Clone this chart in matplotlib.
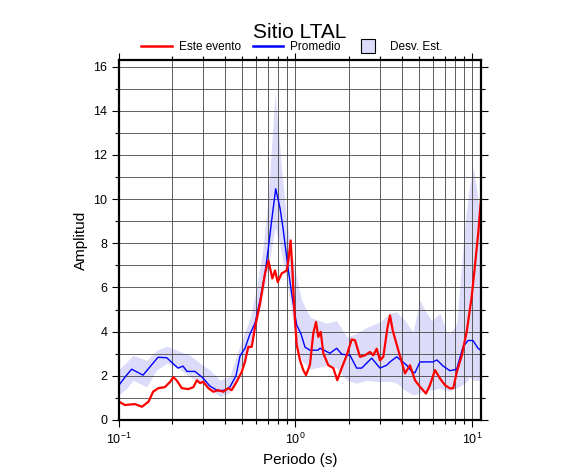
import matplotlib
matplotlib.use("Agg")
import matplotlib.pyplot as plt
from matplotlib.lines import Line2D
from matplotlib.ticker import LogLocator, MultipleLocator

plt.rcParams['font.family'] = ['Liberation Sans', 'DejaVu Sans']

# este evento (red)
ev_T = [0.100, 0.108, 0.123, 0.135, 0.147, 0.156, 0.167, 0.182, 0.195, 0.203,
        0.212, 0.227, 0.247, 0.264, 0.276, 0.288, 0.300, 0.321, 0.342, 0.365,
        0.390, 0.416, 0.435, 0.464, 0.496, 0.518, 0.540, 0.565, 0.590, 0.630,
        0.672, 0.702, 0.717, 0.739, 0.766, 0.793, 0.836, 0.892, 0.911, 0.939,
        0.959, 0.985, 1.016, 1.061, 1.107, 1.147, 1.208, 1.261, 1.307, 1.347,
        1.390, 1.438, 1.534, 1.638, 1.725, 1.827, 1.951, 2.082, 2.174, 2.320,
        2.477, 2.643, 2.760, 2.885, 3.012, 3.145, 3.313, 3.432, 3.555, 3.663,
        3.824, 3.997, 4.173, 4.454, 4.755, 5.075, 5.489, 5.781, 6.172, 6.588,
        7.031, 7.506, 7.837, 8.191, 8.742, 9.333, 9.961, 10.40, 10.86, 11.25]
ev_A = [0.83, 0.68, 0.72, 0.60, 0.83, 1.28, 1.44, 1.49, 1.73, 1.94,
        1.80, 1.44, 1.40, 1.49, 1.80, 1.67, 1.73, 1.44, 1.28, 1.35,
        1.28, 1.44, 1.35, 1.73, 2.18, 2.65, 3.31, 3.31, 4.21, 5.28,
        6.64, 7.22, 6.90, 6.41, 6.77, 6.24, 6.64, 6.77, 7.22, 8.13,
        6.90, 4.97, 3.40, 2.70, 2.26, 2.03, 2.50, 3.92, 4.44, 3.76,
        3.99, 3.02, 2.48, 2.35, 1.80, 2.35, 2.93, 3.65, 3.61, 2.86,
        2.93, 3.08, 2.93, 3.23, 2.70, 2.86, 4.14, 4.74, 4.06, 3.69,
        3.16, 2.63, 2.11, 2.48, 1.80, 1.50, 1.20, 1.58, 2.26, 1.88,
        1.58, 1.43, 1.44, 2.15, 2.90, 4.00, 5.57, 7.00, 8.50, 10.0]

# promedio (blue)
prom_T = [0.1000, 0.1096, 0.1180, 0.1368, 0.1663, 0.1863, 0.2160, 0.2305, 0.2429,
          0.2696, 0.2992, 0.3279, 0.3639, 0.3987, 0.4256, 0.4602, 0.4850, 0.5176,
          0.5524, 0.5897, 0.6295, 0.6719, 0.6988, 0.7327, 0.7725, 0.8170, 0.8497,
          0.9068, 0.9517, 1.0158, 1.0744, 1.1319, 1.2084, 1.3412, 1.3766, 1.5688,
          1.7120, 1.8274, 2.0363, 2.2222, 2.3723, 2.7025, 3.0119, 3.2865, 3.4318,
          3.7446, 4.2658, 4.5709, 4.7545, 5.0750, 6.0117, 6.3343, 6.8487, 7.5064,
          8.1908, 8.8920, 9.4919, 10.132, 10.814, 11.25]
prom_A = [1.58, 2.00, 2.30, 2.03, 2.84, 2.82, 2.35, 2.44, 2.20,
          2.20, 1.90, 1.53, 1.32, 1.35, 1.50, 2.00, 2.90, 3.25,
          3.90, 4.38, 5.42, 6.64, 7.67, 9.03, 10.47, 9.60, 8.70,
          6.90, 5.72, 4.30, 3.90, 3.30, 3.16, 3.16, 3.25, 3.02,
          3.25, 2.98, 2.93, 2.35, 2.35, 2.80, 2.35, 2.48, 2.63,
          2.86, 2.48, 2.18, 2.14, 2.63, 2.63, 2.72, 2.45, 2.23,
          2.30, 3.31, 3.60, 3.60, 3.25, 3.15]

# desviacion estandar (band)
sd_T = [0.1000, 0.1096, 0.1200, 0.1435, 0.1635, 0.1863, 0.2123, 0.2525, 0.2877,
        0.3279, 0.3735, 0.4256, 0.4850, 0.5524, 0.6030, 0.6546, 0.6988, 0.7327,
        0.7656, 0.7991, 0.8355, 0.8918, 0.9517, 1.0158, 1.0842, 1.2084, 1.5026,
        1.7120, 1.9505, 2.2222, 2.5314, 3.0119, 3.4318, 3.7446, 4.1730, 4.6320,
        5.0750, 5.4164, 5.9115, 6.5878, 7.1900, 7.5064, 8.1908, 8.5507, 9.1283,
        9.7432, 10.172, 10.856, 11.25]
sd_hi = [2.30, 2.60, 2.93, 2.70, 3.16, 3.34, 3.16, 2.93, 2.57,
         2.26, 1.80, 2.00, 3.40, 4.60, 6.00, 7.80, 9.93, 12.5,
         14.76, 13.2, 11.3, 9.03, 7.50, 6.46, 5.42, 4.65, 4.38,
         4.50, 3.76, 3.92, 4.20, 4.44, 4.85, 4.89, 4.50, 3.99,
         5.42, 4.97, 4.50, 4.83, 3.99, 3.92, 4.38, 6.18, 8.90,
         10.7, 11.44, 9.93, 9.00]
sd_lo = [1.15, 1.40, 1.80, 1.50, 2.26, 2.57, 2.40, 1.95, 1.73,
         1.44, 1.05, 1.25, 2.30, 3.30, 4.38, 5.73, 6.90, 7.80,
         8.70, 8.26, 7.50, 6.32, 4.83, 3.47, 2.70, 2.30, 2.48,
         2.35, 1.80, 1.67, 1.80, 1.73, 1.75, 1.67, 1.35, 1.13,
         1.22, 1.35, 1.35, 1.44, 1.35, 1.35, 1.44, 1.55, 1.67,
         1.95, 1.80, 1.80, 1.80]

band_color = '#dcdcfa'

fig = plt.figure(figsize=(5.86, 4.75), dpi=100)
ax = fig.add_axes([119 / 586, 55 / 475, 362 / 586, 360 / 475])

ax.fill_between(sd_T, sd_lo, sd_hi, color=band_color, lw=0, zorder=1)
ax.plot(prom_T, prom_A, color='#0000ff', lw=1.0, zorder=3)
ax.plot(ev_T, ev_A, color='#ff0000', lw=1.6, zorder=4)

ax.set_xscale('log')
ax.set_xlim(0.1, 11.25)
ax.set_ylim(0, 16.3)
ax.xaxis.set_major_locator(LogLocator(base=10, numticks=10))
ax.xaxis.set_minor_locator(LogLocator(base=10, subs=range(2, 10), numticks=20))
ax.yaxis.set_major_locator(MultipleLocator(2))
ax.yaxis.set_minor_locator(MultipleLocator(1))

ax.grid(True, which='both', color='#444444', lw=0.6, zorder=2)
ax.set_axisbelow(False)
for s in ax.spines.values():
    s.set_linewidth(1.6)
    s.set_zorder(5)

ax.tick_params(which='both', direction='out', top=True, right=True,
               labeltop=False, labelright=False, width=0.8, labelsize=9)
ax.tick_params(which='major', length=5)
ax.tick_params(which='minor', length=3)

ax.set_xlabel('Periodo (s)', fontsize=11)
ax.set_ylabel('Amplitud', fontsize=11)

fig.text(300 / 586, 1 - 33 / 475, 'Sitio LTAL', ha='center', va='center', fontsize=15)

handles = [Line2D([], [], color='#ff0000', lw=1.8),
           Line2D([], [], color='#0000ff', lw=1.8),
           Line2D([], [], ls='none', marker='s', markersize=10,
                  markerfacecolor=band_color, markeredgecolor='black', markeredgewidth=0.8)]
fig.legend(handles, ['Este evento', 'Promedio', 'Desv. Est.'], ncol=3,
           loc='center', bbox_to_anchor=(292 / 586, 1 - 47 / 475), frameon=False,
           fontsize=8.5, handlelength=2.6, handletextpad=0.6, columnspacing=1.0)

fig.savefig('out.png', dpi=100)
